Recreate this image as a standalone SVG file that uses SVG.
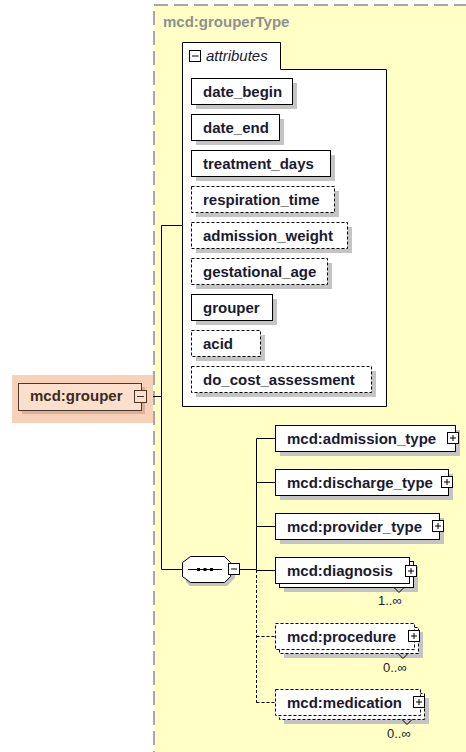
<svg xmlns="http://www.w3.org/2000/svg" width="466" height="752" viewBox="0 0 466 752">
<style>
text{font-family:"Liberation Sans",Arial,sans-serif}
.lbl{font-size:15px;font-weight:bold;fill:#1a1a30}
.box{fill:#fff;stroke:#000;stroke-width:1}
.dbox{fill:#fff;stroke:#000;stroke-width:1;stroke-dasharray:3,2}
.sh{fill:#c4c4c4}
.ln{stroke:#000;stroke-width:1;fill:none}
.dl{stroke:#000;stroke-width:1;fill:none;stroke-dasharray:3,2}
.card{font-size:13px;fill:#222}
.pm{fill:#fff;stroke:#000;stroke-width:1}
</style>
<rect width="466" height="752" fill="#fff"/>
<g id="grouperType">
<rect x="154" y="5" width="330" height="760" fill="#ffffc6" stroke="#a8a8a8" stroke-width="2" stroke-dasharray="14,6"/>
<text x="163" y="27" font-size="15" font-weight="bold" fill="#909090">mcd:grouperType</text>
</g>
<g id="attributes">
<path d="M182.5 42.5H280.5V69.5H386.5V406.5H182.5Z" class="box"/>
<rect x="189.5" y="50.5" width="11" height="11" class="pm"/>
<path d="M192 56H198.5" class="ln"/>
<text x="206" y="61" font-size="15" font-style="italic" fill="#1a1a30">attributes</text>
</g>
<g id="attr_date_begin"><rect x="196" y="83" width="101" height="26" class="sh"/><rect x="191.5" y="78.5" width="101" height="26" class="box"/><text x="203" y="97" class="lbl">date_begin</text></g>
<g id="attr_date_end"><rect x="196" y="119" width="88" height="26" class="sh"/><rect x="191.5" y="114.5" width="88" height="26" class="box"/><text x="203" y="133" class="lbl">date_end</text></g>
<g id="attr_treatment_days"><rect x="196" y="155" width="139" height="26" class="sh"/><rect x="191.5" y="150.5" width="139" height="26" class="box"/><text x="203" y="169" class="lbl">treatment_days</text></g>
<g id="attr_respiration_time"><rect x="196" y="191" width="143" height="26" class="sh"/><rect x="191.5" y="186.5" width="143" height="26" class="dbox"/><text x="203" y="205" class="lbl">respiration_time</text></g>
<g id="attr_admission_weight"><rect x="196" y="227" width="156" height="26" class="sh"/><rect x="191.5" y="222.5" width="156" height="26" class="dbox"/><text x="203" y="241" class="lbl">admission_weight</text></g>
<g id="attr_gestational_age"><rect x="196" y="263" width="136" height="26" class="sh"/><rect x="191.5" y="258.5" width="136" height="26" class="dbox"/><text x="203" y="277" class="lbl">gestational_age</text></g>
<g id="attr_grouper"><rect x="196" y="299" width="81" height="26" class="sh"/><rect x="191.5" y="294.5" width="81" height="26" class="box"/><text x="203" y="313" class="lbl">grouper</text></g>
<g id="attr_acid"><rect x="196" y="335" width="69" height="26" class="sh"/><rect x="191.5" y="330.5" width="69" height="26" class="dbox"/><text x="203" y="349" class="lbl">acid</text></g>
<g id="attr_do_cost_assessment"><rect x="196" y="371" width="180" height="26" class="sh"/><rect x="191.5" y="366.5" width="180" height="26" class="dbox"/><text x="203" y="385" class="lbl">do_cost_assessment</text></g>
<g id="connectors">
<path d="M148 396.5H161.5M161.5 225.5V569.5H182M161.5 225.5H182.5" class="ln"/>
<path d="M240 569.5H256.5M256.5 438.5V569.5M256.5 438.5H275M256.5 482.5H275M256.5 526.5H275M256.5 570.5H275" class="ln"/>
<path d="M256.5 570V702.5M256.5 636.5H275M256.5 702.5H275" class="dl"/>
</g>
<g id="grouper">
<rect x="12" y="375" width="141" height="48" fill="#f7d2b8"/>
<rect x="22" y="387" width="123" height="27" fill="#d8b39a"/>
<rect x="18.5" y="383.5" width="123" height="27" fill="#fbe1cd" stroke="#4e3626"/>
<text x="30" y="401" font-size="15" font-weight="bold" fill="#3e2a1c">mcd:grouper</text>
<rect x="134.5" y="390.5" width="12" height="12" fill="#fbe1cd" stroke="#4e3626"/>
<path d="M137 396.5H144" stroke="#4e3626"/>
</g>
<g id="sequence">
<path d="M190 560H227L235 568V578L227 586H190L186 582V564Z" class="sh"/>
<path d="M190.5 556.5H224.5L230.5 562.5V576.5L224.5 582.5H190.5L182.5 576.5V562.5Z" fill="#fff" stroke="#000"/>
<path d="M188 569.5H222" class="ln"/>
<rect x="197" y="568" width="3" height="3"/><rect x="203.5" y="568" width="3" height="3"/><rect x="210" y="568" width="3" height="3"/>
<rect x="228.5" y="563.5" width="11" height="11" class="pm"/>
<path d="M231 569H237" class="ln"/>
</g>
<g id="admission_type"><rect x="280" y="430" width="180" height="26" class="sh"/><rect x="275.5" y="425.5" width="180" height="26" class="box"/><text x="287" y="444" class="lbl">mcd:admission_type</text><rect x="447.5" y="432.5" width="11" height="11" class="pm"/><path d="M450 438H456M453 435V441" class="ln"/></g>
<g id="discharge_type"><rect x="280" y="474" width="173" height="26" class="sh"/><rect x="275.5" y="469.5" width="173" height="26" class="box"/><text x="287" y="488" class="lbl">mcd:discharge_type</text><rect x="441.5" y="476.5" width="11" height="11" class="pm"/><path d="M444 482H450M447 479V485" class="ln"/></g>
<g id="provider_type"><rect x="280" y="518" width="164" height="26" class="sh"/><rect x="275.5" y="513.5" width="164" height="26" class="box"/><text x="287" y="532" class="lbl">mcd:provider_type</text><rect x="432.5" y="520.5" width="11" height="11" class="pm"/><path d="M435 526H441M438 523V529" class="ln"/></g>
<g id="diagnosis"><rect x="284" y="566" width="134" height="26" class="sh"/><rect x="279.5" y="561.5" width="134" height="26" class="box"/><rect x="275.5" y="557.5" width="134" height="26" class="box"/><text x="287" y="576" class="lbl">mcd:diagnosis</text><rect x="405.5" y="565.5" width="11" height="11" class="pm"/><path d="M408 571H414M411 568V574" class="ln"/><path d="M394 587.5L399 592.5L404 587.5" class="ln"/><text x="378" y="605" class="card">1..∞</text></g>
<g id="procedure"><rect x="284" y="632" width="139" height="26" class="sh"/><rect x="279.5" y="627.5" width="139" height="26" class="dbox"/><rect x="275.5" y="623.5" width="139" height="26" class="dbox"/><text x="287" y="642" class="lbl">mcd:procedure</text><rect x="408.5" y="630.5" width="11" height="11" class="pm"/><path d="M411 636H417M414 633V639" class="ln"/><path d="M398 653.5L403 658.5L408 653.5" class="ln"/><text x="383" y="672" class="card">0..∞</text></g>
<g id="medication"><rect x="284" y="698" width="145" height="26" class="sh"/><rect x="279.5" y="693.5" width="145" height="26" class="dbox"/><rect x="275.5" y="689.5" width="145" height="26" class="dbox"/><text x="287" y="708" class="lbl">mcd:medication</text><rect x="413.5" y="696.5" width="11" height="11" class="pm"/><path d="M416 702H422M419 699V705" class="ln"/><path d="M402 719.5L407 724.5L412 719.5" class="ln"/><text x="387" y="738" class="card">0..∞</text></g>
</svg>
